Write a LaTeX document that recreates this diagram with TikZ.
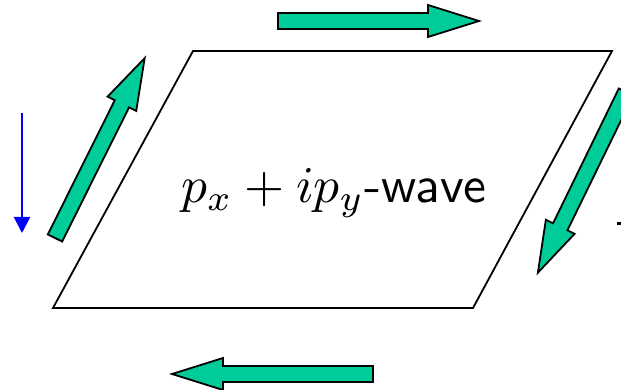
\documentclass[tikz,border=0pt]{standalone}
\usetikzlibrary{arrows.meta}
\definecolor{arrowgreen}{RGB}{0,204,153}
\begin{document}
\begin{tikzpicture}[x=1pt,y=-1pt,
  outline/.style={draw=black,line width=1.8pt,line join=miter},
  arrowbody/.style={fill=arrowgreen,draw=black,line width=1.8pt,line join=miter},
  blockarrow/.pic={\path[arrowbody] (0,-8) -- (150,-8) -- (150,-16) -- (201,0) -- (150,16) -- (150,8) -- (0,8) -- cycle;},
  spinarrow/.style={draw=blue,line width=2.4pt,-{Triangle[length=16pt,width=16pt]}}]
\useasboundingbox (0,0) rectangle (621,390);
\clip (0,0) rectangle (621,390);
% parallelogram
\coordinate (p1) at (193,51);
\coordinate (p2) at (612,51);
\coordinate (p3) at (473,308);
\coordinate (p4) at (53,308);
\draw[outline] (p1) -- (p2) -- (p3) -- (p4) -- cycle;
\node[anchor=base,scale=5.15] (label) at (334,203) {$p_x + ip_y$\textsf{-wave}};
% circulating block arrows
\pic[rotate=0] at (278,21) {blockarrow};
\pic[rotate=180] at (373,374) {blockarrow};
\pic[rotate=63.5] at (55,238) {blockarrow};
\pic[rotate=244] at (626,92) {blockarrow};
% blue arrow
\coordinate (b1) at (22,113);
\coordinate (b2) at (22,233);
\draw[spinarrow] (b1) -- (b2);
% small mark at right edge
\fill[black] (617,222) rectangle (621,225);
\end{tikzpicture}
\end{document}
